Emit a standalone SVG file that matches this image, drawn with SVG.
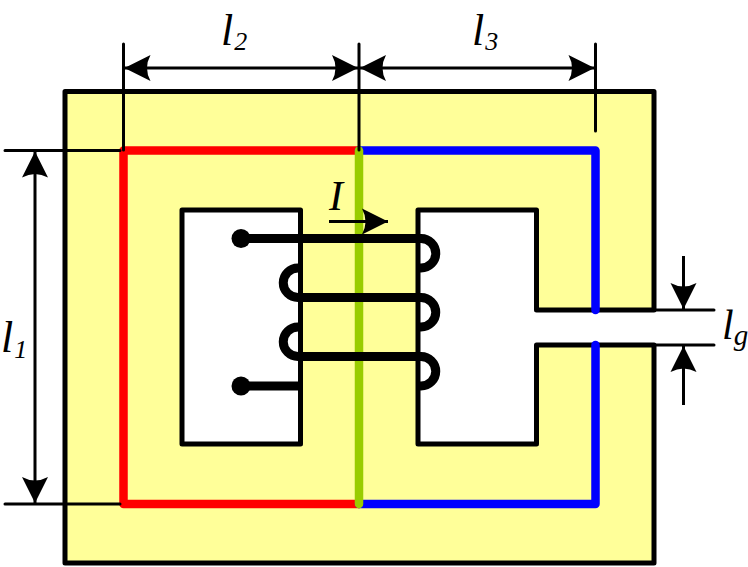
<svg xmlns="http://www.w3.org/2000/svg" width="748" height="567" viewBox="0 0 748 567">
<style>
.core{fill:#ffff99;stroke:#000;stroke-width:5;stroke-linejoin:round}
.win{fill:#fff;stroke:#000;stroke-width:5;stroke-linejoin:round}
.path{fill:none;stroke-width:8.500;stroke-linejoin:round;stroke-linecap:round}
.coil{fill:none;stroke:#000;stroke-width:9}
.tick{fill:none;stroke:#000;stroke-width:3;stroke-linecap:round}
.dim{fill:none;stroke:#000;stroke-width:3;marker-end:url(#ah)}
.dim2{marker-start:url(#ahs)}
.t{font-family:"Liberation Serif","Times New Roman",serif;font-style:italic;font-size:44px;fill:#000}
.s{font-size:26px}
</style>
<defs>
<marker id="ah" markerUnits="userSpaceOnUse" markerWidth="30" markerHeight="30" refX="26" refY="15" orient="auto" overflow="visible"><path d="M26,15 L0,2 Q7,15 0,28 Z" fill="#000"/></marker>
<marker id="ahs" markerUnits="userSpaceOnUse" markerWidth="30" markerHeight="30" refX="0" refY="15" orient="auto" overflow="visible"><path d="M0,15 L26,2 Q19,15 26,28 Z" fill="#000"/></marker>
</defs>
<g id="core">
<path class="core" d="M65,91.500H654V310H536.500V210H418V444H536.500V345H654V563H65Z"/>
<rect class="win" x="182" y="210" width="118.500" height="234"/>
</g>
<g id="magnetic-paths">
<path class="path" stroke="#ff0000" d="M359,150.500H123.500V504H359"/>
<path class="path" stroke="#0000ff" d="M359,150.500H595.500V310M595.500,345V504H359"/>
<path class="path" stroke="#99cc00" d="M359,150.500V504"/>
</g>
<g id="coil">
<path class="coil" d="M241,238.500H421A14.750,14.750 0 0 1 421,268H418"/>
<path class="coil" d="M300,268H298A14.750,14.750 0 0 0 298,297.500H421A14.750,14.750 0 0 1 421,327H418"/>
<path class="coil" d="M300,327H298A14.750,14.750 0 0 0 298,356.500H421A14.750,14.750 0 0 1 421,386H418"/>
<path class="coil" d="M241,386H300"/>
<circle cx="241" cy="238.500" r="9.500" fill="#000"/>
<circle cx="241" cy="386" r="9.500" fill="#000"/>
</g>
<g id="connectors">
<path class="tick" d="M123.500,44V150M359,44V150M595.500,44V131M5,150.500H120M5,504H120M654,310H714M654,345H714"/>
<path class="dim dim2" d="M124.500,68H358"/>
<path class="dim dim2" d="M360,68H594.500"/>
<path class="dim dim2" d="M35,151.500V503"/>
<path class="dim" d="M683.500,256V309"/>
<path class="dim" d="M683.500,405V346"/>
<path class="dim" d="M329,221.500H388"/>
</g>
<g id="labels">
<text class="t" x="221" y="45">l<tspan class="s" dx="1" dy="5">2</tspan></text>
<text class="t" x="472" y="45">l<tspan class="s" dx="1" dy="5">3</tspan></text>
<text class="t" x="1" y="352">l<tspan class="s" dx="1" dy="6">1</tspan></text>
<text class="t" x="722" y="339" style="font-size:42px">l<tspan class="s" dx="0" dy="6" style="font-size:29px">g</tspan></text>
<text class="t" x="329" y="210" style="font-size:42px">I</text>
</g>
</svg>
